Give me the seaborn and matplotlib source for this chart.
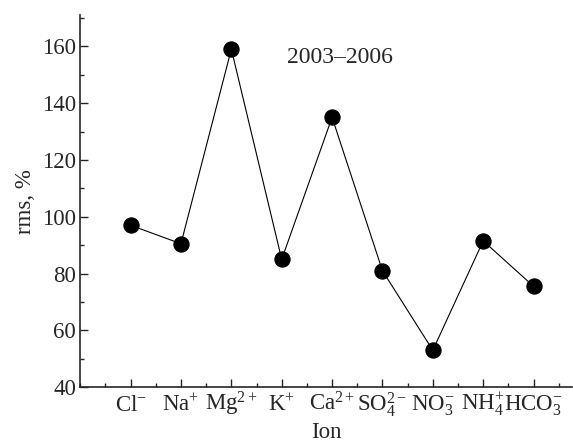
import numpy as np
import pandas as pd
import matplotlib
matplotlib.use("Agg")
import matplotlib.pyplot as plt
import seaborn as sns
from matplotlib.ticker import MultipleLocator

# Data
ions = [r"Cl$^{-}$", r"Na$^{+}$", r"Mg$^{2+}$", r"K$^{+}$", r"Ca$^{2+}$",
        r"SO$_4^{2-}$", r"NO$_3^{-}$", r"NH$_4^{+}$", r"HCO$_3^{-}$"]
positions = [1, 2, 3, 4, 5, 6, 7, 8, 9]
rms = [97, 90.5, 159, 85, 135, 81, 53, 91.5, 75.5]

sns.set_style("ticks")
plt.rcParams['font.family'] = ['Liberation Serif', 'DejaVu Serif']
plt.rcParams['mathtext.fontset'] = 'custom'
plt.rcParams['mathtext.rm'] = 'Liberation Serif'
plt.rcParams['mathtext.it'] = 'Liberation Serif:italic'
plt.rcParams['mathtext.default'] = 'rm'

df = pd.DataFrame({"pos": positions, "rms": rms})

fig = plt.figure(figsize=(5.73, 4.43), dpi=100)
ax = fig.add_axes([0.14, 0.126, 0.858, 0.84])

sns.lineplot(data=df, x="pos", y="rms", ax=ax, color="black", linewidth=0.8,
             marker="o", markersize=11, markeredgecolor="black",
             markerfacecolor="black")

ax.set_xlim(0, 9.76)
ax.set_ylim(40, 171)
ax.set_xticks(positions)
ax.set_xticklabels(ions)
ax.xaxis.set_minor_locator(MultipleLocator(0.5))
ax.yaxis.set_major_locator(MultipleLocator(20))
ax.yaxis.set_minor_locator(MultipleLocator(10))
ax.tick_params(which="major", direction="in", length=6, width=1, labelsize=16.5, pad=3)
ax.tick_params(which="minor", direction="in", length=3, width=1)
ax.tick_params(axis="x", pad=17)
for lab in ax.get_xticklabels():
    lab.set_va("baseline")

sns.despine(ax=ax)
for s in ["left", "bottom"]:
    ax.spines[s].set_linewidth(1.2)

ax.set_xlabel("Ion", fontsize=16.5, labelpad=2)
ax.set_ylabel("rms, %", fontsize=16.5, labelpad=4)
ax.text(5.15, 156, "2003\u20132006", fontsize=17, ha="center", va="center")

fig.savefig("out.png", dpi=100)
